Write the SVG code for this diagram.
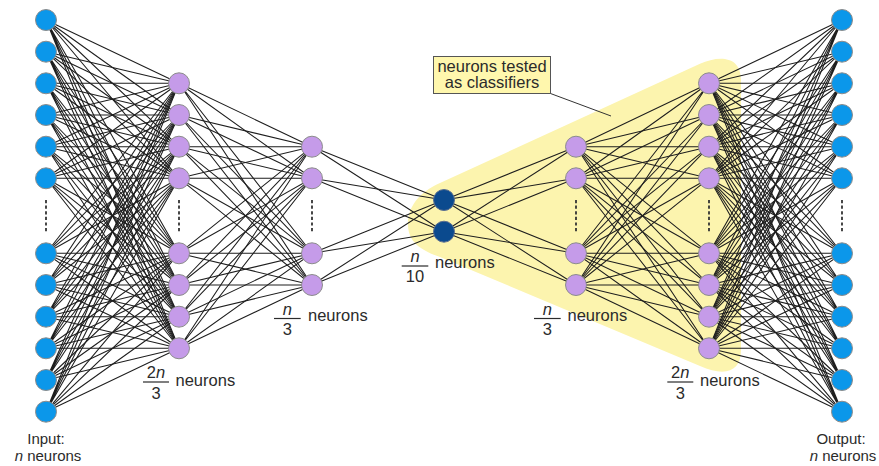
<svg xmlns="http://www.w3.org/2000/svg" xmlns:xlink="http://www.w3.org/1999/xlink" width="879" height="466" viewBox="0 0 879 466">
  <style>
    .link { fill: none; stroke: #1e1e1e; stroke-width: 1.05; }
    .node circle { stroke: #8c8c8c; stroke-width: 1; }
    .io circle { fill: #0b97ea; }
    .hid circle { fill: #c59be9; }
    .code circle { fill: #0b4a8e; stroke: #5a6e90; }
    .dots { stroke: #333; stroke-width: 1.8; stroke-dasharray: 3.2 2.4; fill: none; }
    .lbl { font-family: "Liberation Sans", Arial, sans-serif; font-size: 16.5px; fill: #2b2b2b; }
    .io-lbl { font-size: 15px; }
    .mid { text-anchor: middle; }
    .bar { stroke: #2b2b2b; stroke-width: 1.2; }
    .it { font-style: italic; }
  </style>
  <defs>
    <!-- connections of the encoder half; the decoder half is its mirror image -->
    <g id="half-links" class="link">
      <!-- input layer -> 2n/3 layer -->
      <path d="M46 20L179 83.3M46 20L179 115M46 20L179 146.7M46 20L179 178.3M46 20L179 253.3M46 20L179 285M46 20L179 316.7M46 20L179 348.3"/>
      <path d="M46 51.7L179 83.3M46 51.7L179 115M46 51.7L179 146.7M46 51.7L179 178.3M46 51.7L179 253.3M46 51.7L179 285M46 51.7L179 316.7M46 51.7L179 348.3"/>
      <path d="M46 83.3L179 83.3M46 83.3L179 115M46 83.3L179 146.7M46 83.3L179 178.3M46 83.3L179 253.3M46 83.3L179 285M46 83.3L179 316.7M46 83.3L179 348.3"/>
      <path d="M46 115L179 83.3M46 115L179 115M46 115L179 146.7M46 115L179 178.3M46 115L179 253.3M46 115L179 285M46 115L179 316.7M46 115L179 348.3"/>
      <path d="M46 146.7L179 83.3M46 146.7L179 115M46 146.7L179 146.7M46 146.7L179 178.3M46 146.7L179 253.3M46 146.7L179 285M46 146.7L179 316.7M46 146.7L179 348.3"/>
      <path d="M46 178.3L179 83.3M46 178.3L179 115M46 178.3L179 146.7M46 178.3L179 178.3M46 178.3L179 253.3M46 178.3L179 285M46 178.3L179 316.7M46 178.3L179 348.3"/>
      <path d="M46 253.3L179 83.3M46 253.3L179 115M46 253.3L179 146.7M46 253.3L179 178.3M46 253.3L179 253.3M46 253.3L179 285M46 253.3L179 316.7M46 253.3L179 348.3"/>
      <path d="M46 285L179 83.3M46 285L179 115M46 285L179 146.7M46 285L179 178.3M46 285L179 253.3M46 285L179 285M46 285L179 316.7M46 285L179 348.3"/>
      <path d="M46 316.7L179 83.3M46 316.7L179 115M46 316.7L179 146.7M46 316.7L179 178.3M46 316.7L179 253.3M46 316.7L179 285M46 316.7L179 316.7M46 316.7L179 348.3"/>
      <path d="M46 348.3L179 83.3M46 348.3L179 115M46 348.3L179 146.7M46 348.3L179 178.3M46 348.3L179 253.3M46 348.3L179 285M46 348.3L179 316.7M46 348.3L179 348.3"/>
      <path d="M46 380L179 83.3M46 380L179 115M46 380L179 146.7M46 380L179 178.3M46 380L179 253.3M46 380L179 285M46 380L179 316.7M46 380L179 348.3"/>
      <path d="M46 411.7L179 83.3M46 411.7L179 115M46 411.7L179 146.7M46 411.7L179 178.3M46 411.7L179 253.3M46 411.7L179 285M46 411.7L179 316.7M46 411.7L179 348.3"/>
      <!-- 2n/3 layer -> n/3 layer -->
      <path d="M179 83.3L312 146.7M179 83.3L312 178.3M179 83.3L312 253.3M179 83.3L312 285"/>
      <path d="M179 115L312 146.7M179 115L312 178.3M179 115L312 253.3M179 115L312 285"/>
      <path d="M179 146.7L312 146.7M179 146.7L312 178.3M179 146.7L312 253.3M179 146.7L312 285"/>
      <path d="M179 178.3L312 146.7M179 178.3L312 178.3M179 178.3L312 253.3M179 178.3L312 285"/>
      <path d="M179 253.3L312 146.7M179 253.3L312 178.3M179 253.3L312 253.3M179 253.3L312 285"/>
      <path d="M179 285L312 146.7M179 285L312 178.3M179 285L312 253.3M179 285L312 285"/>
      <path d="M179 316.7L312 146.7M179 316.7L312 178.3M179 316.7L312 253.3M179 316.7L312 285"/>
      <path d="M179 348.3L312 146.7M179 348.3L312 178.3M179 348.3L312 253.3M179 348.3L312 285"/>
      <!-- n/3 layer -> code layer -->
      <path d="M312 146.7L444 200M312 146.7L444 231.7"/>
      <path d="M312 178.3L444 200M312 178.3L444 231.7"/>
      <path d="M312 253.3L444 200M312 253.3L444 231.7"/>
      <path d="M312 285L444 200M312 285L444 231.7"/>
    </g>
  </defs>

  <rect width="879" height="466" fill="#fff"/>

  <!-- highlighted region: neurons tested as classifiers -->
  <path id="classifier-region" fill="#fcf4ae"
        d="M440 183 L700 63.8 C718 55.5 741 55 741 80 L741 350 C741 372 725 377 700 366 L440 257 C420 250 409 242 408 226 C407 208 418 193 440 183 Z"/>

  <!-- connectors -->
  <g id="connectors">
    <use xlink:href="#half-links"/>
    <use xlink:href="#half-links" transform="matrix(-1 0 0 1 888 0)"/>
  </g>

  <!-- ellipsis marks inside the layers -->
  <g id="ellipses" class="dots">
    <path d="M46 200V232M179 200V232M312 200V232M576 200V232M709 200V232M842 200V232"/>
  </g>

  <!-- input layer -->
  <g id="input-layer" class="node io">
    <g id="in-1"><circle cx="46" cy="20" r="10.5"/></g>
    <g id="in-2"><circle cx="46" cy="51.7" r="10.5"/></g>
    <g id="in-3"><circle cx="46" cy="83.3" r="10.5"/></g>
    <g id="in-4"><circle cx="46" cy="115" r="10.5"/></g>
    <g id="in-5"><circle cx="46" cy="146.7" r="10.5"/></g>
    <g id="in-6"><circle cx="46" cy="178.3" r="10.5"/></g>
    <g id="in-7"><circle cx="46" cy="253.3" r="10.5"/></g>
    <g id="in-8"><circle cx="46" cy="285" r="10.5"/></g>
    <g id="in-9"><circle cx="46" cy="316.7" r="10.5"/></g>
    <g id="in-10"><circle cx="46" cy="348.3" r="10.5"/></g>
    <g id="in-11"><circle cx="46" cy="380" r="10.5"/></g>
    <g id="in-12"><circle cx="46" cy="411.7" r="10.5"/></g>
  </g>

  <!-- encoder hidden layer 2n/3 -->
  <g id="enc-1-layer" class="node hid">
    <g id="e1-1"><circle cx="179" cy="83.3" r="10.5"/></g>
    <g id="e1-2"><circle cx="179" cy="115" r="10.5"/></g>
    <g id="e1-3"><circle cx="179" cy="146.7" r="10.5"/></g>
    <g id="e1-4"><circle cx="179" cy="178.3" r="10.5"/></g>
    <g id="e1-5"><circle cx="179" cy="253.3" r="10.5"/></g>
    <g id="e1-6"><circle cx="179" cy="285" r="10.5"/></g>
    <g id="e1-7"><circle cx="179" cy="316.7" r="10.5"/></g>
    <g id="e1-8"><circle cx="179" cy="348.3" r="10.5"/></g>
  </g>

  <!-- encoder hidden layer n/3 -->
  <g id="enc-2-layer" class="node hid">
    <g id="e2-1"><circle cx="312" cy="146.7" r="10.5"/></g>
    <g id="e2-2"><circle cx="312" cy="178.3" r="10.5"/></g>
    <g id="e2-3"><circle cx="312" cy="253.3" r="10.5"/></g>
    <g id="e2-4"><circle cx="312" cy="285" r="10.5"/></g>
  </g>

  <!-- code layer n/10 -->
  <g id="code-layer" class="node code">
    <g id="c-1"><circle cx="444" cy="200" r="10.5"/></g>
    <g id="c-2"><circle cx="444" cy="231.7" r="10.5"/></g>
  </g>

  <!-- decoder hidden layer n/3 -->
  <g id="dec-1-layer" class="node hid">
    <g id="d1-1"><circle cx="576" cy="146.7" r="10.5"/></g>
    <g id="d1-2"><circle cx="576" cy="178.3" r="10.5"/></g>
    <g id="d1-3"><circle cx="576" cy="253.3" r="10.5"/></g>
    <g id="d1-4"><circle cx="576" cy="285" r="10.5"/></g>
  </g>

  <!-- decoder hidden layer 2n/3 -->
  <g id="dec-2-layer" class="node hid">
    <g id="d2-1"><circle cx="709" cy="83.3" r="10.5"/></g>
    <g id="d2-2"><circle cx="709" cy="115" r="10.5"/></g>
    <g id="d2-3"><circle cx="709" cy="146.7" r="10.5"/></g>
    <g id="d2-4"><circle cx="709" cy="178.3" r="10.5"/></g>
    <g id="d2-5"><circle cx="709" cy="253.3" r="10.5"/></g>
    <g id="d2-6"><circle cx="709" cy="285" r="10.5"/></g>
    <g id="d2-7"><circle cx="709" cy="316.7" r="10.5"/></g>
    <g id="d2-8"><circle cx="709" cy="348.3" r="10.5"/></g>
  </g>

  <!-- output layer -->
  <g id="output-layer" class="node io">
    <g id="out-1"><circle cx="842" cy="20" r="10.5"/></g>
    <g id="out-2"><circle cx="842" cy="51.7" r="10.5"/></g>
    <g id="out-3"><circle cx="842" cy="83.3" r="10.5"/></g>
    <g id="out-4"><circle cx="842" cy="115" r="10.5"/></g>
    <g id="out-5"><circle cx="842" cy="146.7" r="10.5"/></g>
    <g id="out-6"><circle cx="842" cy="178.3" r="10.5"/></g>
    <g id="out-7"><circle cx="842" cy="253.3" r="10.5"/></g>
    <g id="out-8"><circle cx="842" cy="285" r="10.5"/></g>
    <g id="out-9"><circle cx="842" cy="316.7" r="10.5"/></g>
    <g id="out-10"><circle cx="842" cy="348.3" r="10.5"/></g>
    <g id="out-11"><circle cx="842" cy="380" r="10.5"/></g>
    <g id="out-12"><circle cx="842" cy="411.7" r="10.5"/></g>
  </g>

  <!-- layer size labels -->
  <g id="labels" class="lbl">
    <text class="mid io-lbl" x="46" y="444">Input:</text>
    <text class="mid io-lbl" x="48" y="461"><tspan class="it">n</tspan> neurons</text>
    <text class="mid io-lbl" x="841" y="444">Output:</text>
    <text class="mid io-lbl" x="843" y="461"><tspan class="it">n</tspan> neurons</text>

    <text class="mid" x="156" y="378">2<tspan class="it">n</tspan></text>
    <line class="bar" x1="143" y1="382" x2="169" y2="382"/>
    <text class="mid" x="156" y="398.5">3</text>
    <text x="175.5" y="385.5">neurons</text>

    <text class="mid" x="287.3" y="314.5" font-style="italic">n</text>
    <line class="bar" x1="274" y1="318.5" x2="300.7" y2="318.5"/>
    <text class="mid" x="287.3" y="335">3</text>
    <text x="308" y="320.5">neurons</text>

    <text class="mid" x="415" y="262" font-style="italic">n</text>
    <line class="bar" x1="401.7" y1="266" x2="428.3" y2="266"/>
    <text class="mid" x="415" y="281.5">10</text>
    <text x="435" y="268">neurons</text>

    <text class="mid" x="547.3" y="314.5" font-style="italic">n</text>
    <line class="bar" x1="534" y1="318.5" x2="560.7" y2="318.5"/>
    <text class="mid" x="547.3" y="335">3</text>
    <text x="567.5" y="320.5">neurons</text>

    <text class="mid" x="680.3" y="378">2<tspan class="it">n</tspan></text>
    <line class="bar" x1="667.3" y1="382" x2="693.3" y2="382"/>
    <text class="mid" x="680.3" y="398.5">3</text>
    <text x="700" y="385.5">neurons</text>
  </g>

  <!-- callout -->
  <g id="callout">
    <line x1="550.5" y1="93.5" x2="611" y2="116" stroke="#333" stroke-width="1"/>
    <rect x="433.5" y="56.5" width="117" height="37" fill="#fff7ad" stroke="#555" stroke-width="1"/>
    <text class="lbl mid" x="492" y="71.5">neurons tested</text>
    <text class="lbl mid" x="492" y="88">as classifiers</text>
  </g>
</svg>
